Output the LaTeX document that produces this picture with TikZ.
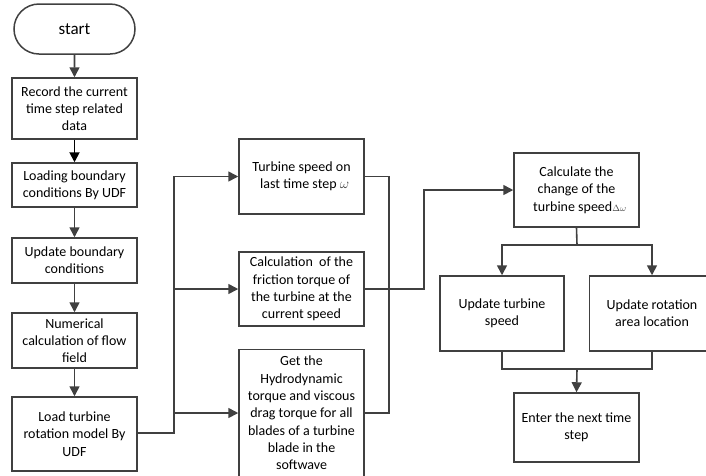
\documentclass[tikz,border=0pt]{standalone}
\usepackage{fontspec}
\setmainfont{Carlito}
\usetikzlibrary{arrows.meta,shapes.misc}
\definecolor{ln}{HTML}{404040}
\tikzset{
  box/.style={draw=ln, line width=1.5pt, rectangle, align=center, inner sep=2pt,
    minimum width=125pt, font=\fontsize{14}{17.3}\selectfont, text=black},
  conn/.style={draw=ln, line width=1.6pt},
  arr/.style={conn, -{Triangle[length=10pt,width=10pt]}}
}
\newcommand{\om}{{\color{ln}$\omega$}}
\newcommand{\dom}{{\color{ln}\small$\Delta\omega$}}
\begin{document}
\begin{tikzpicture}[x=1pt,y=-1pt]
\useasboundingbox (0,0) rectangle (706,475);
% left column
\node[box, rounded rectangle, minimum height=50pt, font=\fontsize{17}{20}\selectfont] (st) at (74.5,29) {start};
\node[box, minimum height=61pt] (b1) at (74.5,108.5) {Record the current\\time step related\\data};
\node[box, minimum height=44pt] (b2) at (74.5,185) {Loading boundary\\conditions By UDF};
\node[box, minimum height=45pt] (b3) at (74.5,260.5) {Update boundary\\conditions};
\node[box, minimum height=55pt] (b4) at (74.5,340.5) {Numerical\\calculation of flow\\field};
\node[box, minimum height=74pt] (b5) at (74.5,434) {Load turbine\\rotation model By\\UDF};
% middle column
\node[box, minimum height=75pt] (A) at (301.5,176.5) {Turbine speed on\\ \ \ last time step \om};
\node[box, minimum height=74pt] (B) at (301.5,289) {Calculation \ of the\\friction torque of\\the turbine at the\\current speed};
\node[box, minimum height=127pt] (C) at (301.5,413) {Get the\\Hydrodynamic\\torque and viscous\\drag torque for all\\blades of a turbine\\blade in the\\softwave};
% right part
\node[box, minimum height=74pt] (D) at (576.5,190) {Calculate the\\change of the\\ \ \ turbine speed\dom};
\node[box, minimum width=124pt, minimum height=75pt] (E) at (502,313.5) {Update turbine\\speed};
\node[box, minimum height=75pt] (F) at (652,313.5) {Update rotation\\area location};
\node[box, minimum height=69pt] (G) at (576.5,427.5) {Enter the next time\\step};
% connectors left column
\draw[arr] (st) -- (b1);
\draw[arr, draw=black, line width=1.9pt] (b1) -- (b2);
\draw[arr] (b2) -- (b3);
\draw[arr] (b3) -- (b4);
\draw[arr] (b4) -- (b5);
% left bus
\coordinate (bl) at (174,433);
\draw[arr] (b5.east |- bl) -- (bl) |- (A.west);
\draw[arr] (bl |- B.west) -- (B.west);
\draw[arr] (bl |- C.west) -- (C.west);
% right bus
\coordinate (br) at (389,300);
\draw[conn] (A.east) -| (br) |- (C.east);
\coordinate (jr) at (424,250);
\draw[arr] (B.east) -| (jr) |- (D.west);
% split
\coordinate (s1) at (577,245);
\draw[conn] (D.south) -- (s1);
\draw[arr] (s1) -| (E.north);
\draw[arr] (s1) -| (F.north);
% merge
\coordinate (m2) at (577,369);
\draw[conn] (E.south) |- (m2);
\draw[conn] (F.south) |- (m2);
\draw[arr] (m2) -- (G.north);
\end{tikzpicture}
\end{document}
